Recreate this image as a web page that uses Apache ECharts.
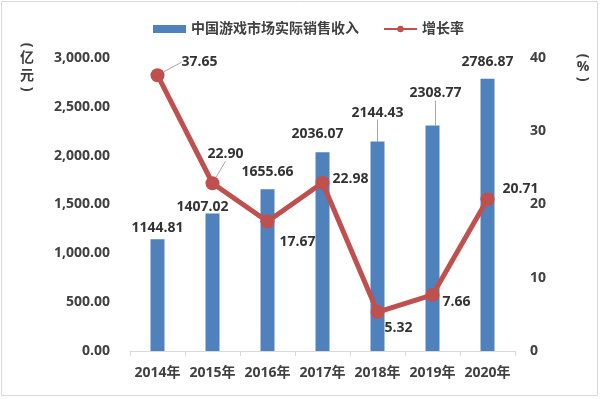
<!DOCTYPE html>
<html>
<head>
<meta charset="utf-8">
<script src="https://cdn.jsdelivr.net/npm/echarts@6/dist/echarts.min.js"></script>
<style>
  html, body { margin: 0; padding: 0; background: #fff; }
  #chart { width: 600px; height: 399px; }
</style>
</head>
<body>
<div id="chart"></div>
<script>
// 数据
var years = ['2014年', '2015年', '2016年', '2017年', '2018年', '2019年', '2020年'];
var revenue = [1144.81, 1407.02, 1655.66, 2036.07, 2144.43, 2308.77, 2786.87];
var growth = [37.65, 22.90, 17.67, 22.98, 5.32, 7.66, 20.71];

var txt = '#404040';
var font = "'Open Sans', 'Noto Sans CJK SC', sans-serif";

// 标签偏移（像素）与引导线
var barShift = [[0, 0], [-10, 4], [0, -6], [-5, -7], [0, -18], [3, -21], [0, -6]];
var barLead = [false, false, false, false, true, true, false];
var lineShift = [[9, -13], [-20, -29], [-3, 20], [-5, -4], [-8, 16], [-5, 7], [0, -10]];
var lineLead = [true, true, false, false, false, false, false];

// 竖排轴名
function vText(x, y, s, rot) {
  return {
    type: 'text', x: x, y: y, rotation: rot ? -Math.PI / 2 : 0,
    style: { text: s, fill: txt, font: "bold 14px 'Open Sans', 'Noto Sans CJK SC'", align: 'center', verticalAlign: 'middle' }
  };
}

var chart = echarts.init(document.getElementById('chart'));
chart.setOption({
  animation: false,
  textStyle: { fontFamily: font },
  graphic: [{
    type: 'rect',
    shape: { x: 1.5, y: 1.5, width: 596, height: 394 },
    style: { fill: 'none', stroke: '#d9d9d9', lineWidth: 1 }
  },
    vText(27, 45, '(', true), vText(27, 58, '亿'), vText(27, 76, '元'), vText(27, 89, ')', true),
    vText(583, 56, '(', true), vText(583, 67, '%'), vText(583, 79, ')', true)
  ],
  legend: {
    top: 17,
    left: 148,
    itemGap: 24,
    itemWidth: 33,
    itemHeight: 8,
    textStyle: { color: txt, fontSize: 14, fontWeight: 'bold', fontFamily: font },
    data: [
      { name: '中国游戏市场实际销售收入', icon: 'rect' },
      { name: '增长率' }
    ]
  },
  grid: { left: 130, right: 85, top: 58, bottom: 48, outerBoundsMode: 'none' },
  xAxis: {
    type: 'category',
    data: years,
    axisLine: { lineStyle: { color: '#d9d9d9' } },
    axisTick: { show: true, length: 5, lineStyle: { color: '#d9d9d9' } },
    axisLabel: { interval: 0, color: txt, fontSize: 14, fontWeight: 'bold', margin: 15 }
  },
  yAxis: [{
    type: 'value',
    min: 0, max: 3000, interval: 500,
    splitLine: { show: false },
    axisLine: { show: false },
    axisTick: { show: false },
    axisLabel: {
      color: txt, fontSize: 14, fontWeight: 'bold', margin: 20,
      formatter: function (v) {
        return v.toLocaleString('en-US', { minimumFractionDigits: 2, maximumFractionDigits: 2 });
      }
    }
  }, {
    type: 'value',
    min: 0, max: 40, interval: 10,
    splitLine: { show: false },
    axisLine: { show: false },
    axisTick: { show: false },
    axisLabel: { color: txt, fontSize: 14, fontWeight: 'bold', margin: 15 }
  }],
  series: [{
    name: '中国游戏市场实际销售收入',
    type: 'bar',
    data: revenue.map(function (v, i) {
      return { value: v, labelLine: { show: barLead[i] } };
    }),
    barWidth: 14,
    itemStyle: { color: '#4f81bd' },
    label: {
      show: true, position: 'top', distance: 4,
      color: '#333', fontSize: 14, fontWeight: 'bold', fontFamily: font
    },
    labelLine: { lineStyle: { color: '#a6a6a6', width: 1 } },
    labelLayout: function (p) {
      var s = barShift[p.dataIndex];
      return { dx: s[0], dy: s[1] };
    }
  }, {
    name: '增长率',
    type: 'line',
    yAxisIndex: 1,
    data: growth.map(function (v, i) {
      return { value: v, labelLine: { show: lineLead[i] } };
    }),
    symbol: 'circle',
    symbolSize: 14,
    lineStyle: { color: '#c0504d', width: 5 },
    itemStyle: { color: '#c0504d' },
    label: {
      show: true, position: 'right', distance: 8,
      color: '#333', fontSize: 14, fontWeight: 'bold', fontFamily: font,
      formatter: function (p) { return p.value.toFixed(2); }
    },
    labelLine: { lineStyle: { color: '#a6a6a6', width: 1 } },
    labelLayout: function (p) {
      var s = lineShift[p.dataIndex];
      return { dx: s[0], dy: s[1] };
    }
  }]
});
</script>
</body>
</html>
